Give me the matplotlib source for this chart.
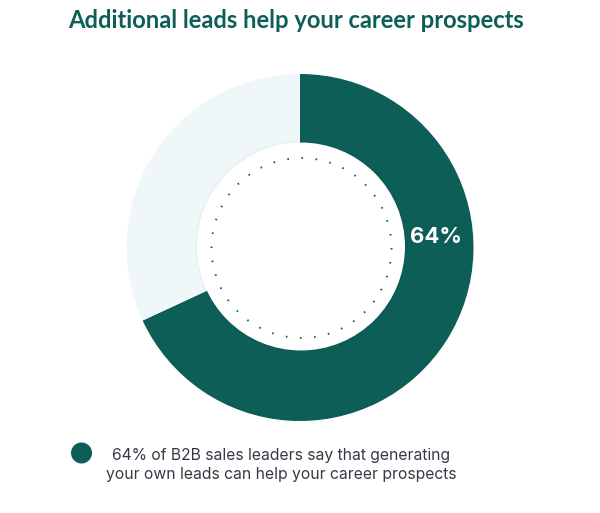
import matplotlib.pyplot as plt
from matplotlib.patches import Circle

# dane
udzialy = [64, 30]
kolory = ['#0d5e57', '#eff7f9']
etykieta = '64%'
tytul = 'Additional leads help your career prospects'
opis = '64% of B2B sales leaders say that generating\nyour own leads can help your career prospects'

fig = plt.figure(figsize=(6, 5.13), dpi=100)
ax = fig.add_axes([0, 0, 1, 1])

srodek = (300, 247.5)
ax.pie(udzialy, colors=kolory, center=srodek, radius=173.5,
       startangle=-90, counterclock=True,
       wedgeprops=dict(linewidth=0))

# lekki cień pod białym kołem
c_in = (301, 246.5)
for i, a in enumerate([0.008, 0.012, 0.016]):
    ax.add_patch(Circle(c_in, 106.5 - i, color='black', alpha=a, lw=0, zorder=3))
ax.add_patch(Circle(c_in, 104, color='white', lw=0, zorder=4))

# kropkowany okrąg (40 kropek)
ax.add_patch(Circle((301.5, 248), 90, fill=False, edgecolor='#0d5e57',
                    lw=1.4, linestyle=(0, (0.8, 6.47)), zorder=5))

ax.text(436, 237, etykieta, color='white', fontsize=16, fontweight='bold',
        family='Inter', ha='center', va='center', zorder=6)

ax.text(296, 28, tytul, color='#0d5e57', fontsize=17.1, fontweight='bold',
        family='Lato', ha='center', va='baseline')

ax.add_patch(Circle((81.5, 453), 10.5, color='#0d5e57', lw=0))
ax.text(281.5, 465, opis, color='#353a45', fontsize=11.3, family='Inter',
        ha='center', va='center', linespacing=1.28)

ax.set_xlim(0, 600)
ax.set_ylim(513, 0)
ax.set_aspect('equal')
ax.axis('off')

fig.savefig('out.png', dpi=100)
